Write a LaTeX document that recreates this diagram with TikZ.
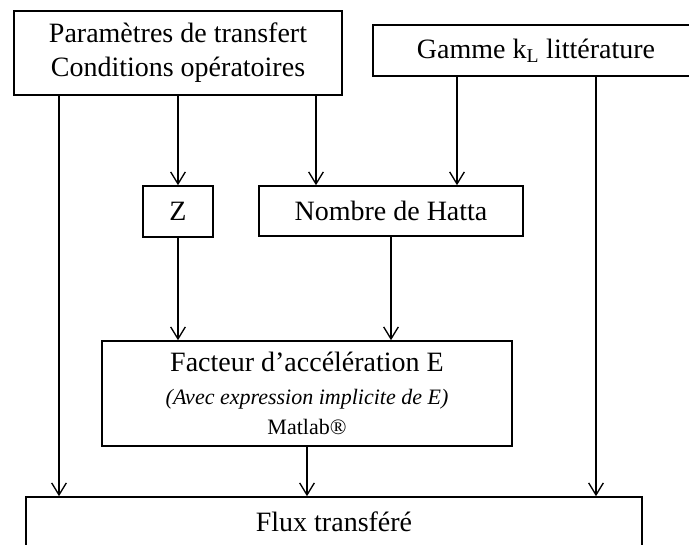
\documentclass[tikz,border=0pt]{standalone}
\usepackage{fontspec}
\setmainfont{Liberation Serif}
\usetikzlibrary{arrows.meta}

\begin{document}
\begin{tikzpicture}[x=0.75pt,y=-0.75pt,
    >={Straight Barb[length=9pt,width=11pt]},
    box/.style={draw,line width=1.2pt,inner sep=0pt,align=center,
      font=\fontsize{21}{25.5}\selectfont},
    link/.style={->,line width=1pt}]
  \useasboundingbox (0,0) rectangle (689,545);
  % boxes
  \node[box,minimum width=246pt,minimum height=63pt] (params) at (178,53)
    {Paramètres de transfert\\Conditions opératoires};
  \node[box,minimum width=244.5pt,minimum height=38.25pt] (gamme) at (536,50.5)
    {Gamme k\textsubscript{L} littérature};
  \node[box,minimum width=52.5pt,minimum height=38.25pt] (z) at (178,211.5) {Z};
  \node[box,minimum width=198pt,minimum height=37.5pt] (hatta) at (391,211)
    {Nombre de Hatta};
  \node[box,minimum width=307.5pt,minimum height=78.75pt] (facteur) at (307,393.5)
    {Facteur d’accélération E\\[-1pt]
     {\fontsize{16.5}{19}\selectfont\itshape (Avec expression implicite de E)}\\[-3pt]
     {\fontsize{16.5}{19}\selectfont Matlab®}};
  \node[box,minimum width=462pt,minimum height=37.5pt] (flux) at (334,522)
    {Flux transféré};
  % columns of the long arrows
  \coordinate (c1) at (59,0);
  \coordinate (c3) at (316,0);
  \coordinate (c4) at (457,0);
  \coordinate (c5) at (596,0);
  % arrows
  \draw[link] (params.south -| c1) -- (flux.north -| c1);
  \draw[link] (params.south -| z.north) -- (z.north);
  \draw[link] (params.south -| c3) -- (hatta.north -| c3);
  \draw[link] (gamme.south -| c4) -- (hatta.north -| c4);
  \draw[link] (gamme.south -| c5) -- (flux.north -| c5);
  \draw[link] (z.south) -- (facteur.north -| z.south);
  \draw[link] (hatta.south) -- (facteur.north -| hatta.south);
  \draw[link] (facteur.south) -- (flux.north -| facteur.south);
\end{tikzpicture}
\end{document}
